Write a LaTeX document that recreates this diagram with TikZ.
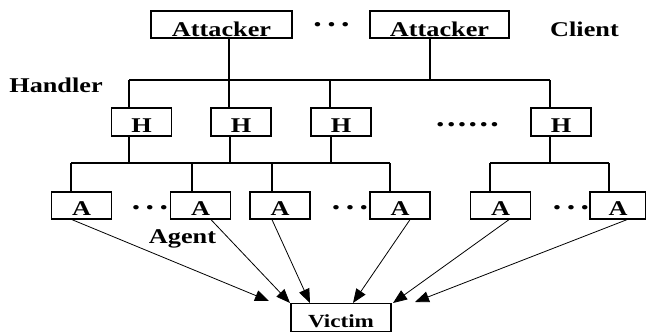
\documentclass[tikz,border=0pt]{standalone}
\usepackage{fontspec}
\setmainfont{Liberation Serif}[FakeStretch=1.25]
\usetikzlibrary{arrows.meta}

% rows of spaced dots standing for "and so on"
\newcommand\threedots{.\kern5.4pt.\kern5.4pt.}
\newcommand\sixdots{.\kern2.4pt.\kern2.4pt.\kern2.4pt.\kern2.4pt.\kern2.4pt.}

\tikzset{
  box/.style={draw, line width=1.3pt, inner sep=0pt,
    font=\fontsize{21}{23}\selectfont\bfseries, text height=20.5pt, text depth=0pt},
  attbox/.style={box, minimum height=27pt, text height=23pt},
  hbox/.style={box, minimum width=60pt, minimum height=28pt},
  abox/.style={box, minimum width=60pt, minimum height=27pt, text height=19.5pt},
  wire/.style={line width=1.2pt},
  feed/.style={line width=0.8pt, -{Triangle[length=14pt,width=11pt]}},
  tag/.style={anchor=base, inner sep=0pt, font=\fontsize{21}{23}\selectfont\bfseries},
  dotrow/.style={anchor=base, inner sep=0pt, font=\fontsize{27}{29}\selectfont\bfseries},
}

\begin{document}
\begin{tikzpicture}[x=1pt,y=-1pt]
\useasboundingbox (0,0) rectangle (646,332);

% client level
\node[attbox, minimum width=141pt] (att1) at (221.5,24.5) {Attacker};
\node[attbox, minimum width=139pt] (att2) at (439.5,24.5) {Attacker};
\node[dotrow] (cdots) at (331.5,27) {\threedots};
\node[tag] (client) at (584.5,36) {Client};

% handler level
\node[tag] (handler) at (56,92) {Handler};
\node[hbox] (h1) at (141.5,122) {H};
\node[hbox] (h2) at (241,122) {H};
\node[hbox] (h3) at (341,122) {H};
\node[hbox] (h4) at (561,122) {H};
\node[dotrow] (hdots) at (467.5,126) {\sixdots};

% agent level
\node[abox] (a1) at (81.5,205.5) {A};
\node[abox] (a2) at (200.5,205.5) {A};
\node[abox] (a3) at (280,205.5) {A};
\node[abox] (a4) at (400,205.5) {A};
\node[abox] (a5) at (500.5,205.5) {A};
\node[abox, minimum width=56pt] (a6) at (618,205.5) {A};
\node[dotrow] (adots1) at (150,209) {\threedots};
\node[dotrow] (adots2) at (350,209) {\threedots};
\node[dotrow] (adots3) at (571,209) {\threedots};
\node[tag] (agent) at (182.5,243) {Agent};

% target
\node[box, minimum width=100pt, minimum height=28pt,
      font=\fontsize{18.5}{20}\selectfont\bfseries, text height=19pt] (victim) at (341,317.5) {Victim};

% attackers to handlers
\coordinate (ja1) at (229,80);
\coordinate (ja2) at (430,80);
\coordinate (jh1) at (129,80);
\coordinate (jh3) at (330,80);
\coordinate (jh4) at (550,80);
\draw[wire] (jh1) -- (jh4);
\draw[wire] (ja1 |- att1.south) -- (ja1 |- h2.north);
\draw[wire] (ja2 |- att2.south) -- (ja2);
\foreach \j/\n in {jh1/h1, jh3/h3, jh4/h4}
  \draw[wire] (\j) -- (\j |- \n.north);

% handlers to agents
\coordinate (kh1) at (129,163);
\coordinate (kh2) at (230,163);
\coordinate (kh3) at (331,163);
\coordinate (kh4) at (550,163);
\coordinate (ka1) at (71,163);
\coordinate (ka2) at (192,163);
\coordinate (ka3) at (272,163);
\coordinate (ka4) at (390,163);
\coordinate (ka5) at (490,163);
\coordinate (ka6) at (609,163);
\draw[wire] (ka1) -- (ka4);
\draw[wire] (ka5) -- (ka6);
\foreach \k/\n in {kh1/h1, kh2/h2, kh3/h3, kh4/h4}
  \draw[wire] (\k) -- (\k |- \n.south);
\foreach \k/\n in {ka1/a1, ka2/a2, ka3/a3, ka4/a4, ka5/a5, ka6/a6}
  \draw[wire] (\k) -- (\k |- \n.north);

% agents flood the victim
\coordinate (t1) at (269,301);
\coordinate (t2) at (290,303);
\coordinate (t3) at (310,303);
\coordinate (t4) at (353,303);
\coordinate (t5) at (393,303);
\coordinate (t6) at (415,302);
\draw[feed] ([xshift=-9.5pt]a1.south) -- (t1);
\draw[feed] ([xshift=10.5pt]a2.south) -- (t2);
\draw[feed] ([xshift=-8pt]a3.south) -- (t3);
\draw[feed] ([xshift=10pt]a4.south) -- (t4);
\draw[feed] ([xshift=8.5pt]a5.south) -- (t5);
\draw[feed] ([xshift=9pt]a6.south) -- (t6);
\end{tikzpicture}
\end{document}
